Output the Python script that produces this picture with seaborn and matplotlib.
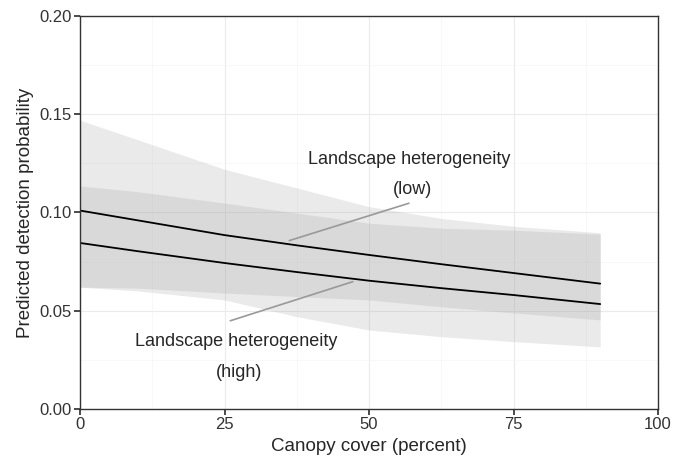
import matplotlib
matplotlib.use("Agg")
import matplotlib.pyplot as plt
import seaborn as sns

sns.set_theme(style="whitegrid")
plt.rcParams["font.family"] = ["Liberation Sans", "DejaVu Sans"]

canopy = [0, 10, 25, 37.5, 50, 62.5, 75, 90]
low_fit = [0.101, 0.096, 0.0885, 0.0833, 0.0784, 0.0737, 0.0692, 0.0638]
low_upper = [0.147, 0.137, 0.122, 0.1125, 0.103, 0.097, 0.093, 0.0897]
low_lower = [0.062, 0.0615, 0.059, 0.0572, 0.0555, 0.052, 0.0489, 0.0453]
high_fit = [0.0845, 0.0803, 0.0743, 0.0697, 0.0653, 0.0615, 0.058, 0.0534]
high_upper = [0.1135, 0.1106, 0.1048, 0.0997, 0.0946, 0.092, 0.091, 0.0890]
high_lower = [0.062, 0.0601, 0.0555, 0.047, 0.0402, 0.0368, 0.0343, 0.0316]

fig = plt.figure(figsize=(6.73, 4.66), dpi=100)
ax = fig.add_axes([80 / 673, 57 / 466, 578 / 673, 393 / 466])

ax.fill_between(canopy, low_lower, low_upper, color="#999999", alpha=0.2, lw=0)
ax.fill_between(canopy, high_lower, high_upper, color="#999999", alpha=0.2, lw=0)
sns.lineplot(x=canopy, y=low_fit, ax=ax, color="black", lw=1.3)
sns.lineplot(x=canopy, y=high_fit, ax=ax, color="black", lw=1.3)

ax.plot([36.2, 56.9], [0.0857, 0.1047], color="#999999", lw=1.2)
ax.plot([26.0, 47.2], [0.0449, 0.0648], color="#999999", lw=1.2)
fs = 13
ax.text(56.9, 0.127, "Landscape heterogeneity", ha="center", va="center", fontsize=fs)
ax.text(57.5, 0.1115, "(low)", ha="center", va="center", fontsize=fs)
ax.text(27.0, 0.0341, "Landscape heterogeneity", ha="center", va="center", fontsize=fs)
ax.text(27.5, 0.0188, "(high)", ha="center", va="center", fontsize=fs)

ax.set_xlim(0, 100)
ax.set_ylim(0, 0.2)
ax.set_xticks([0, 25, 50, 75, 100])
ax.set_yticks([0.0, 0.05, 0.10, 0.15, 0.20])
ax.set_yticklabels(["0.00", "0.05", "0.10", "0.15", "0.20"])
ax.set_xticks([12.5, 37.5, 62.5, 87.5], minor=True)
ax.set_yticks([0.025, 0.075, 0.125, 0.175], minor=True)
ax.grid(True, which="major", color="#ebebeb", lw=0.8)
ax.grid(True, which="minor", color="#f5f5f5", lw=0.5)
ax.set_facecolor("white")
for s in ax.spines.values():
    s.set_color("#333333")
    s.set_linewidth(1)
ax.tick_params(which="major", length=4, color="#333333", labelsize=12, labelcolor="#333333", bottom=True, left=True, pad=2)
ax.tick_params(which="minor", length=0)
ax.set_xlabel("Canopy cover (percent)", fontsize=13.5)
ax.set_ylabel("Predicted detection probability", fontsize=13.5)

fig.savefig("out.png", dpi=100)
